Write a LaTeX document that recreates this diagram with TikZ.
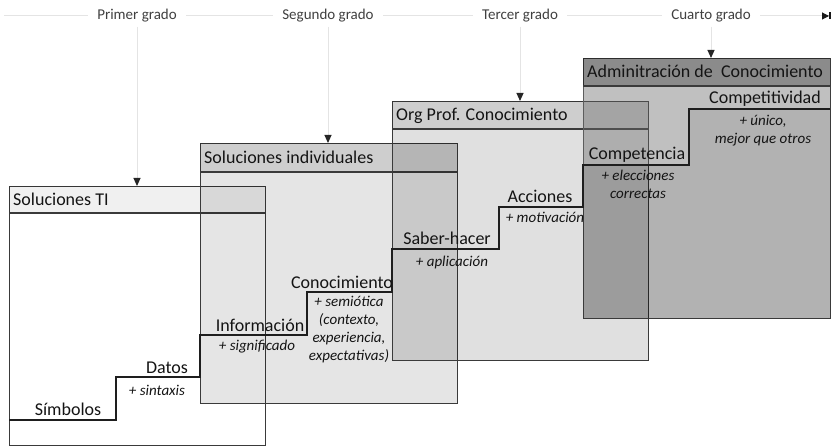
\documentclass[tikz,border=0pt]{standalone}
\usepackage{fontspec}
\setmainfont{Carlito}
\usetikzlibrary{arrows.meta}
\definecolor{bord}{HTML}{3A3A3A}
\definecolor{stair}{HTML}{1E1E1E}
\definecolor{txt}{HTML}{141414}
\definecolor{faint}{HTML}{E4E4E4}
\begin{document}
\begin{tikzpicture}[x=1pt,y=-1pt,
  box/.style={draw=bord, line width=1.3pt, rectangle, inner sep=0pt, anchor=north west, fill=black},
  hdr/.style={fill=black},
  sepline/.style={draw=bord, line width=1.3pt},
  title/.style={anchor=base west, font=\fontsize{18}{21}\selectfont, text=txt, inner sep=0pt},
  lvl/.style={anchor=base, font=\fontsize{18}{21}\selectfont, text=txt, inner sep=0pt},
  sub/.style={align=center, font=\fontsize{15}{18}\selectfont\itshape, text=txt, inner sep=0pt},
  grade/.style={font=\fontsize{15}{18}\selectfont, text=black!75, fill=white, inner xsep=9pt, inner ysep=4pt},
  faintline/.style={draw=faint, line width=1pt},
  gradearrow/.style={faintline, -{Triangle[width=7pt,length=8pt,color=black!85]}},
  stairline/.style={draw=stair, line width=2.6pt}
]
\useasboundingbox (0,0) rectangle (832,446);
% timeline
\coordinate (t0) at (4,16);
\coordinate (t1) at (831,16);
\draw[faintline, -{Triangle[width=7pt,length=7pt,color=black!90] Bar[width=7pt,line width=2pt,color=black!90]}] (t0) -- (t1);
\node[grade] (g1) at (137,16) {Primer grado};
\node[grade] (g2) at (328,16) {Segundo grado};
\node[grade] (g3) at (520,16) {Tercer grado};
\node[grade] (g4) at (711,16) {Cuarto grado};

% box 1
\node[box, fill opacity=0, minimum width=256pt, minimum height=259pt] (b1) at (9,186) {};
\fill[hdr, fill opacity=0.06] (9,186) rectangle (265,213);
\draw[sepline] (9,213) -- (265,213);
% box 2
\node[box, fill opacity=0.10, minimum width=257pt, minimum height=260pt] (b2) at (200,143) {};
\fill[hdr, fill opacity=0.10] (200,143) rectangle (457,172);
\draw[sepline] (200,172) -- (457,172);
% box 3
\node[box, fill opacity=0.12, minimum width=256pt, minimum height=259pt] (b3) at (392,101) {};
\fill[hdr, fill opacity=0.08] (392,101) rectangle (648,129);
\draw[sepline] (392,129) -- (648,129);
% box 4
\node[box, fill opacity=0.30, minimum width=247pt, minimum height=260pt] (b4) at (583,58) {};
\fill[hdr, fill opacity=0.22] (583,58) rectangle (830,86);
\fill[white, fill opacity=0.18] (583,86) -- (830,86) -- (830,109) -- (689,109) -- (689,165) -- (583,165) -- cycle;
\draw[sepline] (583,86) -- (830,86);

% staircase
\draw[stairline] (9,420) -- (116,420) -- (116,377) -- (200,377) -- (200,335) -- (307,335) -- (307,292) -- (392,292) -- (392,249) -- (499,249) -- (499,207) -- (583,207) -- (583,165) -- (689,165) -- (689,109) -- (830,109);

% titles
\node[title] (tt1) at (13,206) {Soluciones TI};
\node[title] (tt2) at (204,164) {Soluciones individuales};
\node[title] (tt3) at (396,121) {Org Prof. Conocimiento};
\node[title] (tt4) at (587,78) {Adminitración de\ \ Conocimiento};

% level labels
\node[lvl] (l1) at (68,415) {Símbolos};
\node[lvl] (l2) at (167,373) {Datos};
\node[lvl] (l3) at (260,331) {Información};
\node[lvl] (l4) at (342,288) {Conocimiento};
\node[lvl] (l5) at (447,245) {Saber-hacer};
\node[lvl] (l6) at (540,203) {Acciones};
\node[lvl] (l7) at (637,160) {Competencia};
\node[lvl] (l8) at (765,104) {Competitividad};

% sub labels
\node[sub, anchor=base] (s2) at (157,395) {+ sintaxis};
\node[sub, anchor=base] (s3) at (257,350) {+ significado};
\node[sub] (s4) at (349,329.5) {+ semiótica\\(contexto,\\experiencia,\\expectativas)};
\node[sub, anchor=base] (s5) at (452,266) {+ aplicación};
\node[sub, anchor=base] (s6) at (545,223) {+ motivación};
\node[sub] (s7) at (638,184) {+ elecciones\\correctas};
\node[sub] (s8) at (763,130.5) {+ único,\\mejor que otros};

% grade arrows
\draw[gradearrow] (g1) -- (g1 |- b1.north);
\draw[gradearrow] (g2) -- (g2 |- b2.north);
\draw[gradearrow] (g3) -- (g3 |- b3.north);
\draw[gradearrow] (g4) -- (g4 |- b4.north);
\end{tikzpicture}
\end{document}
